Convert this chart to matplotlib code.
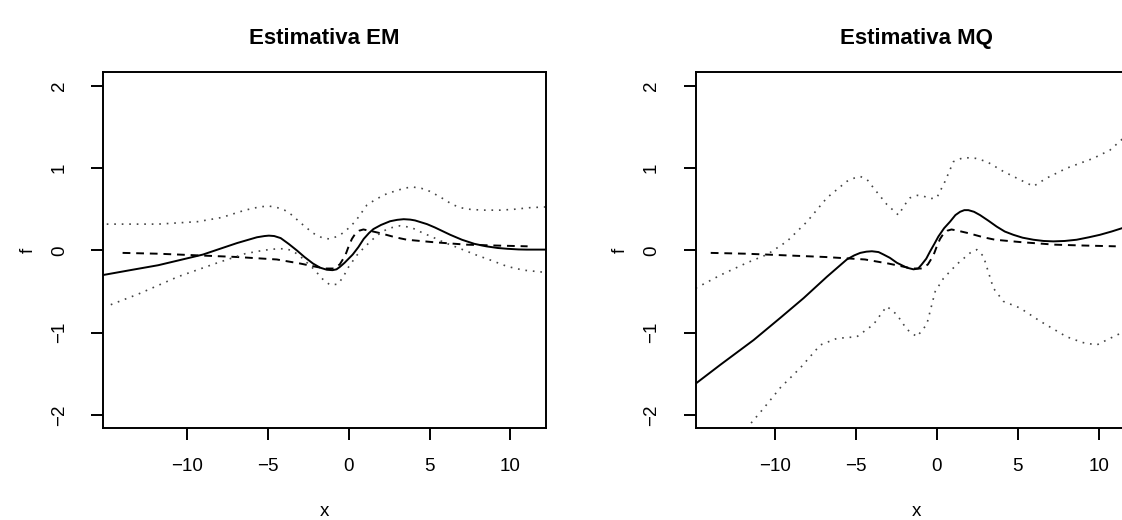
import numpy as np
import matplotlib
matplotlib.use("Agg")
import matplotlib.pyplot as plt

plt.rcParams['font.family'] = ['Liberation Sans', 'DejaVu Sans']

# true function (dashed), same in both panels
x_true = [-13.97, -11.77, -9.33, -6.89, -4.44, -2.98, -2.0, -1.46, -0.9, -0.55,
          -0.33, -0.15, 0.0, 0.2, 0.40, 0.65, 0.91, 1.4, 1.95, 2.88, 3.6, 5.25,
          7.3, 9.0, 11.06]
y_true = [-0.03, -0.04, -0.06, -0.08, -0.11, -0.16, -0.20, -0.22, -0.22, -0.17,
          -0.10, -0.03, 0.05, 0.14, 0.20, 0.24, 0.255, 0.235, 0.21, 0.16, 0.13, 0.10,
          0.07, 0.06, 0.05]

# Estimativa EM
x_em = [-15.2, -13.5, -11.77, -10.06, -9.0, -8.1, -6.89, -5.67, -5.2, -4.93, -4.6,
        -4.2, -3.71, -3.2, -2.73, -2.2, -1.76, -1.35, -1.0, -0.75, -0.54, -0.25,
        0.0, 0.25, 0.6, 0.93, 1.25, 1.53, 2.0, 2.56, 3.0, 3.4, 3.8, 4.1, 4.84,
        5.32, 5.8, 6.28, 7.0, 7.77, 8.5, 9.2, 9.8, 10.5, 11.0, 12.3]
y_em = [-0.30, -0.24, -0.18, -0.10, -0.05, 0.01, 0.09, 0.16, 0.175, 0.18, 0.175,
        0.15, 0.08, 0.00, -0.08, -0.16, -0.21, -0.235, -0.24, -0.23, -0.20, -0.15,
        -0.10, -0.05, 0.04, 0.14, 0.21, 0.26, 0.31, 0.355, 0.372, 0.38, 0.375, 0.365, 0.32,
        0.28, 0.235, 0.19, 0.13, 0.08, 0.05, 0.03, 0.02, 0.012, 0.01, 0.01]

x_em_up = [-14.95, -11.77, -9.33, -7.86, -6.4, -5.5, -4.93, -4.4, -3.96, -3.5,
           -3.0, -2.2, -1.6, -1.2, -0.7, -0.29, 0.1, 0.44, 0.8, 1.12, 1.66, 2.36,
           3.0, 3.5, 4.0, 4.5, 5.0, 5.66, 6.4, 6.9, 7.5, 8.25, 9.38, 10.2, 11.2,
           12.3]
y_em_up = [0.32, 0.32, 0.35, 0.40, 0.49, 0.53, 0.54, 0.52, 0.49, 0.43,
           0.34, 0.21, 0.15, 0.14, 0.17, 0.22, 0.29, 0.36, 0.46, 0.55, 0.62, 0.69,
           0.73, 0.76, 0.77, 0.755, 0.72, 0.65, 0.56, 0.52, 0.50, 0.49, 0.49, 0.50, 0.52,
           0.53]

x_em_lo = [-14.7, -12.99, -10.55, -8.1, -6.4, -5.6, -4.93, -4.4, -3.96, -3.5,
           -3.0, -2.19, -1.6, -1.15, -0.66, -0.33, 0.0, 0.5, 0.93, 1.35, 1.74, 2.1,
           2.5, 3.18, 3.86, 4.5, 5.32, 5.87, 6.79, 7.94, 8.8, 9.8, 10.8, 12.3]
y_em_lo = [-0.66, -0.53, -0.32, -0.15, -0.04, -0.01, 0.01, 0.02, 0.02, 0.0,
           -0.07, -0.22, -0.35, -0.42, -0.41, -0.32, -0.20, -0.06, 0.03, 0.11, 0.18, 0.23,
           0.27, 0.30, 0.28, 0.22, 0.15, 0.10, 0.03, -0.06, -0.12, -0.195, -0.24, -0.27]

# Estimativa MQ
x_mq = [-14.9, -13.37, -11.32, -9.67, -8.23, -6.79, -5.56, -5.1, -4.73, -4.35,
        -4.01, -3.6, -3.29, -2.9, -2.47, -1.85, -1.44, -1.15, -0.93, -0.65, -0.41,
        -0.15, 0.10, 0.45, 0.82, 1.15, 1.44, 1.7, 1.95, 2.3, 2.67, 3.2, 3.70, 4.2,
        4.73, 5.3, 5.97, 6.6, 7.2, 7.9, 8.64, 9.4, 10.08, 10.8, 11.44, 12.5]
y_mq = [-1.62, -1.39, -1.09, -0.82, -0.58, -0.32, -0.11, -0.06, -0.03, -0.015,
        -0.01, -0.02, -0.05, -0.09, -0.15, -0.21, -0.23, -0.22, -0.17, -0.10, -0.01,
        0.08, 0.17, 0.27, 0.35, 0.43, 0.47, 0.49, 0.49, 0.47, 0.43, 0.36, 0.29, 0.23,
        0.19, 0.155, 0.13, 0.115, 0.11, 0.115, 0.13, 0.16, 0.19, 0.23, 0.27, 0.33]

x_mq_up = [-14.9, -13.37, -11.73, -10.49, -9.26, -8.02, -6.79, -5.56, -5.1, -4.73,
           -4.3, -3.91, -3.09, -2.37, -2.0, -1.65, -1.2, -0.82, -0.4, 0.0, 0.51,
           1.03, 1.65, 2.4, 3.09, 4.12, 5.14, 5.97, 6.79, 8.02, 9.67, 10.7, 11.44,
           12.5]
y_mq_up = [-0.46, -0.30, -0.15, -0.05, 0.11, 0.35, 0.64, 0.84, 0.88, 0.90,
           0.86, 0.76, 0.56, 0.43, 0.55, 0.64, 0.67, 0.66, 0.63, 0.64, 0.84,
           1.08, 1.13, 1.12, 1.08, 0.96, 0.86, 0.78, 0.88, 1.00, 1.12, 1.22, 1.35,
           1.42]

x_mq_lo = [-12.0, -11.52, -10.7, -9.67, -8.44, -7.2, -6.17, -4.94, -3.91, -3.4,
           -3.09, -2.47, -1.85, -1.23, -0.62, -0.10, 0.41, 1.23, 2.06, 2.47, 2.88,
           3.5, 4.12, 5.14, 6.38, 8.02, 9.0, 9.88, 10.7, 11.44, 12.5]
y_mq_lo = [-2.25, -2.11, -1.92, -1.67, -1.43, -1.15, -1.07, -1.05, -0.90, -0.76,
           -0.68, -0.78, -0.96, -1.05, -0.90, -0.50, -0.34, -0.17, -0.03, 0.01, -0.07,
           -0.46, -0.62, -0.70, -0.86, -1.05, -1.12, -1.15, -1.07, -1.0, -0.95]

titles = ["Estimativa EM", "Estimativa MQ"]
xlims = [(-15.16, 12.2), (-14.91, 12.45)]
lefts = [0.0921, 0.6199]

fig = plt.figure(figsize=(11.22, 5.2), dpi=100)

panels = [(x_em, y_em, x_em_up, y_em_up, x_em_lo, y_em_lo),
          (x_mq, y_mq, x_mq_up, y_mq_up, x_mq_lo, y_mq_lo)]

for i, (xs, ys, xu, yu, xl, yl) in enumerate(panels):
    ax = fig.add_axes([lefts[i], 0.1769, 0.3946, 0.6846])
    ax.plot(xs, ys, color='black', lw=1.4)
    ax.plot(x_true, y_true, color='black', lw=1.4, linestyle=(0, (4, 3)))
    ax.plot(xu, yu, color='#444444', lw=1.2, linestyle=(0, (1, 3.5)))
    ax.plot(xl, yl, color='#444444', lw=1.2, linestyle=(0, (1, 3.5)))
    ax.set_xlim(*xlims[i])
    ax.set_ylim(-2.16, 2.17)
    ax.set_xticks([-10, -5, 0, 5, 10])
    ax.set_yticks([-2, -1, 0, 1, 2])
    for s in ax.spines.values():
        s.set_linewidth(1.4)
    ax.tick_params(axis='x', length=8.6, width=1.4, pad=13, labelsize=13.5)
    ax.tick_params(axis='y', length=8.6, width=1.4, pad=17, labelsize=13.5,
                   labelrotation=90)
    for lab in ax.get_yticklabels():
        lab.set_va('center')
    ax.set_title(titles[i], fontsize=16, fontweight='bold', pad=20)
    ax.set_xlabel('x', fontsize=13.5)
    ax.set_ylabel('f', fontsize=13.5)
    ax.xaxis.set_label_coords(0.5, -0.212)
    ax.yaxis.set_label_coords(-0.15, 0.5)

fig.savefig('out.png', dpi=100)
